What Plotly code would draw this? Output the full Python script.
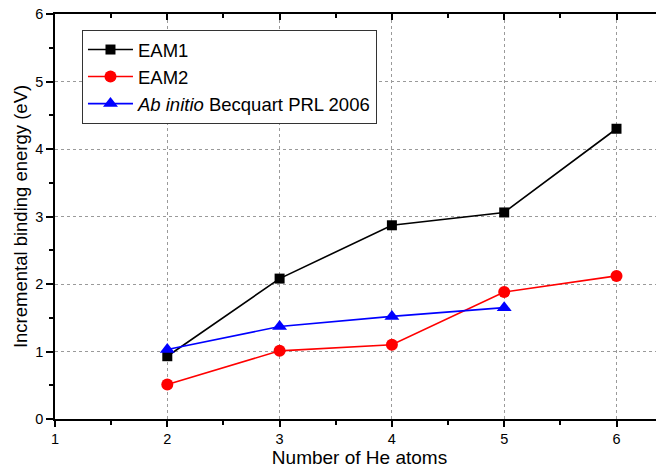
import plotly.graph_objects as go

he_atoms = [2, 3, 4, 5, 6]
eam1 = [0.93, 2.08, 2.87, 3.06, 4.30]
eam2 = [0.51, 1.01, 1.10, 1.88, 2.12]
abinitio_x = [2, 3, 4, 5]
abinitio = [1.03, 1.37, 1.52, 1.65]

fig = go.Figure()
fig.add_trace(go.Scatter(x=he_atoms, y=eam1, mode="lines+markers", name="EAM1",
                         line=dict(color="black", width=1.6),
                         marker=dict(symbol="square", size=10, color="black")))
fig.add_trace(go.Scatter(x=he_atoms, y=eam2, mode="lines+markers", name="EAM2",
                         line=dict(color="#ff0000", width=1.6),
                         marker=dict(symbol="circle", size=12, color="#ff0000")))
fig.add_trace(go.Scatter(x=abinitio_x, y=abinitio, mode="lines+markers",
                         name="<i>Ab initio</i> Becquart PRL 2006",
                         line=dict(color="#0000ff", width=1.6),
                         marker=dict(symbol="triangle-up", size=13, color="#0000ff")))

font_family = "Liberation Sans, Arial, sans-serif"
grid = dict(showgrid=True, gridcolor="#9a9a9a", gridwidth=1, griddash="3px,3px")
xr = [1, 6.423]

fig.update_layout(
    width=656, height=463,
    margin=dict(l=47, r=0, t=6, b=52, autoexpand=False),
    paper_bgcolor="white", plot_bgcolor="white",
    font=dict(family=font_family, size=14.5, color="black"),
    showlegend=True,
    legend=dict(x=0.0443, y=0.9605, xanchor="left", yanchor="top",
                bordercolor="#333333", borderwidth=1, bgcolor="white",
                font=dict(size=18.5, family=font_family),
                tracegroupgap=0, itemwidth=45),
    xaxis=dict(range=xr, tickmode="array", tickvals=[1, 2, 3, 4, 5, 6],
               showline=True, linecolor="black", linewidth=1.5, mirror=True,
               ticks="outside", ticklen=6, tickwidth=1.5, tickcolor="black",
               minor=dict(ticks="outside", ticklen=4, tickwidth=1.5, tickcolor="black", dtick=0.5,
                          showgrid=False),
               zeroline=False, automargin=False, ticklabeloverflow="allow",
               title=dict(text="Number of He atoms", font=dict(size=19), standoff=0),
               tickfont=dict(size=14.5), **grid),
    xaxis2=dict(range=xr, overlaying="x", side="top", showline=False,
                tickmode="array", tickvals=[1, 2, 3, 4, 5, 6], showticklabels=False,
                ticks="inside", ticklen=6, tickwidth=1.5, tickcolor="black",
                minor=dict(ticks="inside", ticklen=4, tickwidth=1.5, tickcolor="black", dtick=0.5),
                showgrid=False, zeroline=False),
    yaxis=dict(range=[0, 6], tickmode="array", tickvals=[0, 1, 2, 3, 4, 5, 6],
               showline=True, linecolor="black", linewidth=1.5, mirror=False,
               ticks="outside", ticklen=7, tickwidth=1.5, tickcolor="black",
               minor=dict(ticks="outside", ticklen=4, tickwidth=1.5, tickcolor="black", dtick=0.5,
                          showgrid=False),
               zeroline=False, automargin=False, ticklabeloverflow="allow",
               title=dict(text="Incremental binding energy (eV)", font=dict(size=18.5), standoff=3),
               tickfont=dict(size=14.5), **grid),
)
# invisible trace to anchor top axis
fig.add_trace(go.Scatter(x=[1], y=[0], xaxis="x2", mode="markers",
                         marker=dict(opacity=0), showlegend=False, hoverinfo="skip"))

fig.write_html("out.html")
